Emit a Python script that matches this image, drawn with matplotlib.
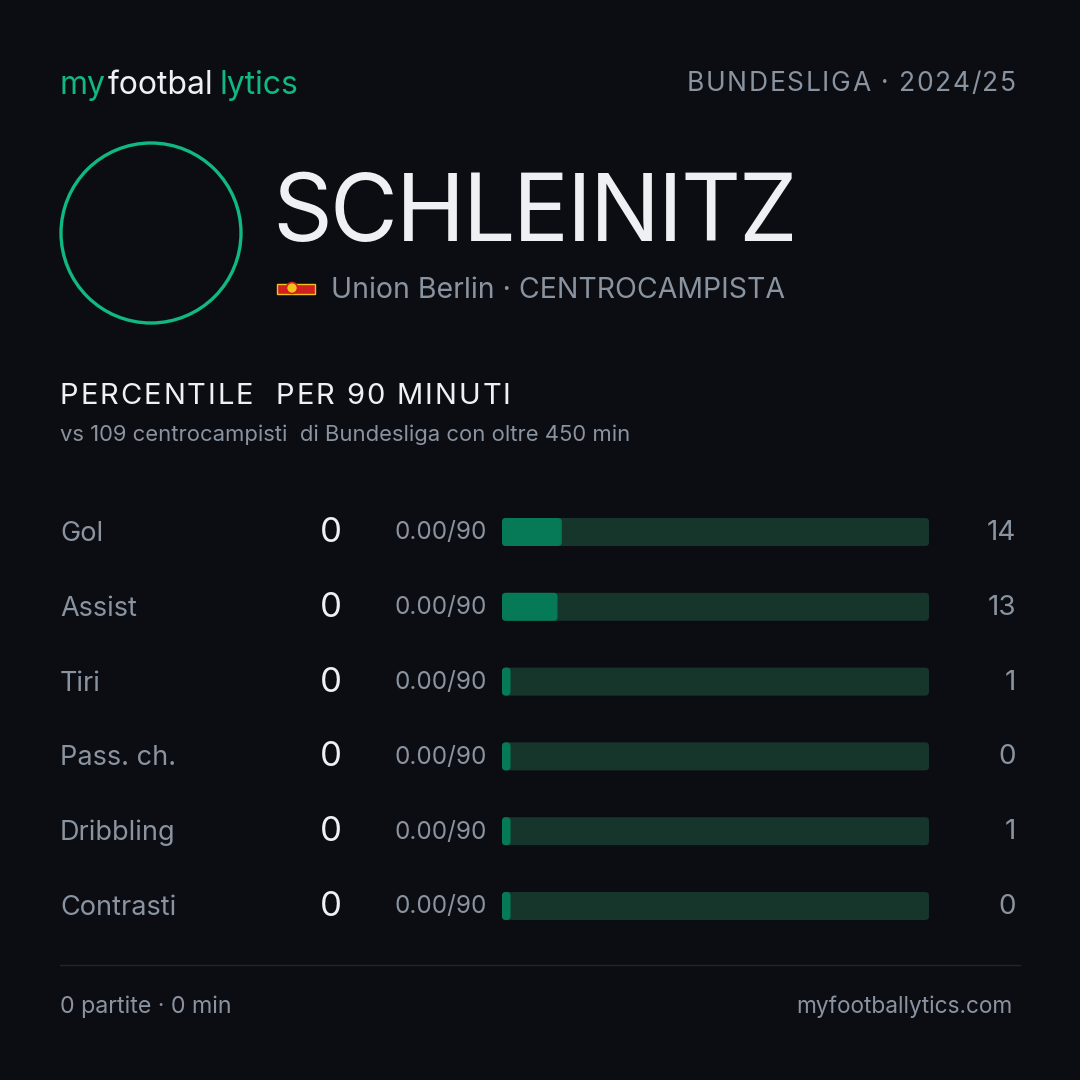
import matplotlib
matplotlib.use("Agg")
import matplotlib.pyplot as plt
from matplotlib.patches import Circle, Rectangle, FancyBboxPatch
from matplotlib.font_manager import FontProperties

plt.rcParams['font.family'] = ['Inter', 'DejaVu Sans']

# data
player = "SCHLEINITZ"
club = "Union Berlin"
role = "CENTROCAMPISTA"
league = "BUNDESLIGA · 2024/25"
metrics = ["Gol", "Assist", "Tiri", "Pass. ch.", "Dribbling", "Contrasti"]
totals = [0, 0, 0, 0, 0, 0]
per90 = ["0.00/90", "0.00/90", "0.00/90", "0.00/90", "0.00/90", "0.00/90"]
percentiles = [14, 13, 1, 0, 1, 0]
matches = 0
minutes = 0

BG = "#0b0d12"
GREEN = "#10b981"
GREY = "#8a93a0"
WHITE = "#eef0f4"
TRACK = "#16352b"
FILL = "#067a56"

fig = plt.figure(figsize=(10.8, 10.8), dpi=100, facecolor=BG)
ax = fig.add_axes([0, 0, 1, 1])
ax.set_xlim(0, 1080)
ax.set_ylim(1080, 0)
ax.axis("off")
ax.set_facecolor(BG)
fig.canvas.draw()
r = fig.canvas.get_renderer()

def tw(s, size):
    # width in px of a string (1 unit = 1 px here)
    prop = FontProperties(family=['Inter', 'DejaVu Sans'], size=size)
    w, _, _ = r.get_text_width_height_descent(s + "|", prop, ismath=False)
    w0, _, _ = r.get_text_width_height_descent("|", prop, ismath=False)
    return w - w0

def spaced(x, y, s, size, spacing, ha="left", **kw):
    total = tw(s, size) + spacing * (len(s) - 1)
    if ha == "right":
        x = x - total
    for i, ch in enumerate(s):
        ax.text(x + tw(s[:i], size) + i * spacing, y, ch, fontsize=size,
                va="baseline", ha="left", **kw)

# header
ax.text(60, 94, "my", color=GREEN, fontsize=23, va="baseline")
x2 = 60 + tw("my", 23) + 2
ax.text(x2, 94, "footbal", color=WHITE, fontsize=23, va="baseline")
x3 = x2 + tw("footbal", 23) + 6
ax.text(x3, 94, "lytics", color=GREEN, fontsize=23, va="baseline")
spaced(1016, 91, league, 19, 1.6, ha="right", color=GREY)

# avatar ring
ax.add_patch(Circle((151, 233), 90, fill=False, edgecolor=GREEN, linewidth=2.4))

spaced(272, 241, player, 67, -2.0, color=WHITE)

# club badge (approximation)
ax.add_patch(Rectangle((277, 284), 38, 10, facecolor="#d21f1f", edgecolor="#f2c21b", linewidth=1.0))
ax.add_patch(Circle((292, 288), 5.5, facecolor="#f2c21b", edgecolor="#d21f1f", linewidth=1.2))
ax.text(331, 290, f"{club} · {role}", color=GREY, fontsize=20.5, va="center", ha="left")

spaced(60, 404, "PERCENTILE  PER 90 MINUTI", 21, 1.9, color=WHITE)
ax.text(60, 441, "vs 109 centrocampisti  di Bundesliga con oltre 450 min", color=GREY,
        fontsize=15.85, va="baseline", ha="left")

# rows
y0, step = 532, 74.8
bar_h = 28 / step
bax = fig.add_axes([502 / 1080, 1 - (y0 + 5 * step + 14) / 1080, (929 - 502) / 1080, (5 * step + 28) / 1080])
bax.set_xlim(0, 100)
bax.set_ylim(5 + 14 / step, -14 / step)
bax.axis("off")
ys = list(range(len(metrics)))
track = bax.barh(ys, [100] * len(metrics), height=bar_h, color=TRACK)
fill = bax.barh(ys, [max(p, 2) for p in percentiles], height=bar_h, color=FILL)

# round the bar corners
aspect = (1 / step) / (100 / 427)
for bars in (track, fill):
    for b in bars:
        x, y, w, h = b.get_x(), b.get_y(), b.get_width(), b.get_height()
        b.set_visible(False)
        bax.add_patch(FancyBboxPatch((x, y), w, h, boxstyle="round,pad=0,rounding_size=0.9",
                                     mutation_aspect=aspect, facecolor=b.get_facecolor(),
                                     edgecolor="none"))

for i, name in enumerate(metrics):
    y = y0 + i * step
    ax.text(60, y + 2, name, color=GREY, fontsize=19.5, va="center", ha="left")
    ax.text(342, y + 1, str(totals[i]), color=WHITE, fontsize=25, va="center", ha="right")
    ax.text(487, y + 1, per90[i], color=GREY, fontsize=17.5, va="center", ha="right")
    ax.text(1016, y + 1, str(percentiles[i]), color=GREY, fontsize=20, va="center", ha="right")

ax.plot([60, 1020], [965, 965], color="#22252d", linewidth=1)
ax.text(60, 1007, f"{matches} partite · {minutes} min", color=GREY, fontsize=16.7, va="center", ha="left")
ax.text(1012, 1007, "myfootballytics.com", color=GREY, fontsize=16.3, va="center", ha="right")

fig.savefig("out.png", dpi=100, facecolor=BG)
